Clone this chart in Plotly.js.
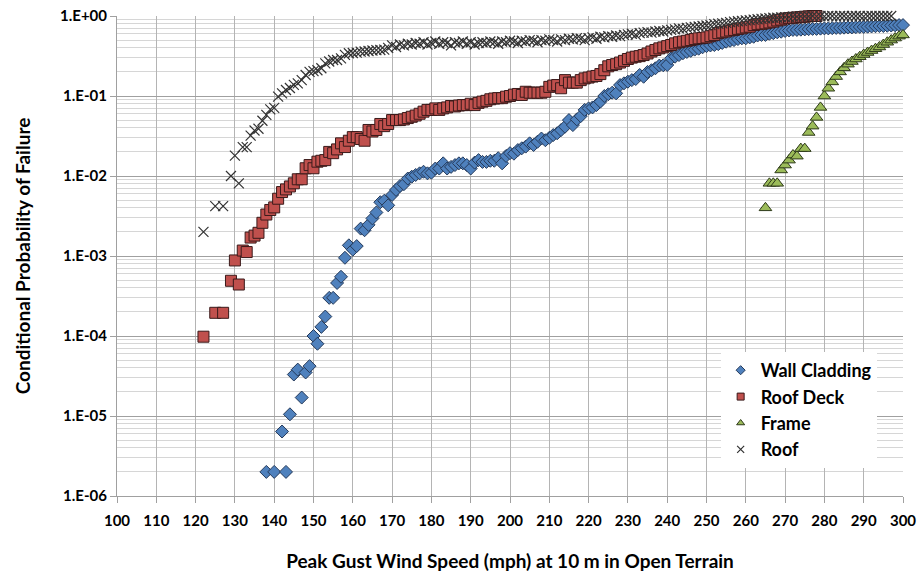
<!DOCTYPE html>
<html>
<head>
<meta charset="utf-8">
<script src="https://cdn.plot.ly/plotly-3.0.1.min.js"></script>
<style>html,body{margin:0;padding:0;background:#fff}#chart{width:921px;height:573px}</style>
</head>
<body>
<div id="chart"></div>
<script>
// ---- Data ----
const wallX = [138,140,142,143,144,145,146,147,148,149,150,151,152,153,154,155,156,157,158,159,160,161,162,163,164,165,166,167,168,169,170,171,172,173,174,175,176,177,178,179,180,181,182,183,184,185,186,187,188,189,190,191,192,193,194,195,196,197,198,199,200,201,202,203,204,205,206,207,208,209,210,211,212,213,214,215,216,217,218,219,220,221,222,223,224,225,226,227,228,229,230,231,232,233,234,235,236,237,238,239,240,241,242,243,244,245,246,247,248,249,250,251,252,253,254,255,256,257,258,259,260,261,262,263,264,265,266,267,268,269,270,271,272,273,274,275,276,277,278,279,280,281,282,283,284,285,286,287,288,289,290,291,292,293,294,295,296,297,298,299,300];
const wallY = [2.0e-6,2.0e-6,6.4e-6,2.0e-6,1.05e-5,3.3e-5,3.8e-5,1.7e-5,3.5e-5,4.2e-5,1.0e-4,8.0e-5,1.3e-4,1.75e-4,3.0e-4,3.0e-4,4.6e-4,5.5e-4,9.5e-4,1.36e-3,1.2e-3,1.33e-3,2.2e-3,2.1e-3,2.45e-3,2.95e-3,3.5e-3,4.7e-3,4.9e-3,4.3e-3,5.8e-3,6.7e-3,7.5e-3,7.9e-3,9.3e-3,9.8e-3,0.0103,0.0108,0.0113,0.0108,0.0110,0.0124,0.0124,0.0144,0.0124,0.0130,0.0137,0.0144,0.0144,0.0137,0.0124,0.0147,0.0158,0.0150,0.0150,0.0155,0.0155,0.0167,0.0144,0.0178,0.0193,0.0190,0.0211,0.0222,0.0233,0.0256,0.0244,0.0268,0.0294,0.0280,0.0300,0.0325,0.0342,0.0375,0.0413,0.0500,0.0433,0.0510,0.0560,0.0670,0.0700,0.0720,0.0770,0.0850,0.100,0.105,0.110,0.108,0.137,0.144,0.151,0.158,0.163,0.183,0.174,0.200,0.210,0.222,0.240,0.242,0.244,0.296,0.310,0.325,0.342,0.355,0.366,0.380,0.390,0.406,0.420,0.428,0.434,0.445,0.460,0.477,0.490,0.500,0.515,0.526,0.526,0.540,0.550,0.570,0.580,0.580,0.600,0.610,0.625,0.636,0.650,0.660,0.670,0.670,0.675,0.680,0.685,0.690,0.690,0.695,0.700,0.700,0.705,0.710,0.710,0.715,0.720,0.720,0.725,0.730,0.730,0.735,0.740,0.745,0.750,0.750,0.755,0.760,0.765,0.770,0.770];

const deckX = [122,125,127,129,130,131,132,133,134,135,136,137,138,139,140,141,142,143,144,145,146,147,148,149,150,151,152,153,154,155,156,157,158,159,160,161,162,163,164,165,166,167,168,169,170,171,172,173,174,175,176,177,178,179,180,181,182,183,184,185,186,187,188,189,190,191,192,193,194,195,196,197,198,199,200,201,202,203,204,205,206,207,208,209,210,211,212,213,214,215,216,217,218,219,220,221,222,223,224,225,226,227,228,229,230,231,232,233,234,235,236,237,238,239,240,241,242,243,244,245,246,247,248,249,250,251,252,253,254,255,256,257,258,259,260,261,262,263,264,265,266,267,268,269,270,271,272,273,274,275,276,277,278];
const deckY = [9.8e-5,1.95e-4,1.95e-4,4.9e-4,8.8e-4,4.4e-4,1.17e-3,1.12e-3,1.7e-3,1.8e-3,1.95e-3,2.6e-3,3.3e-3,3.76e-3,4.05e-3,5.2e-3,6.3e-3,6.8e-3,7.4e-3,8.1e-3,9.1e-3,9.1e-3,0.0125,0.0137,0.0125,0.0151,0.0155,0.0158,0.0200,0.0193,0.0215,0.0256,0.0230,0.0276,0.0306,0.0306,0.0290,0.0276,0.0376,0.0360,0.0376,0.0447,0.0420,0.0447,0.0500,0.0500,0.0500,0.0510,0.0530,0.0550,0.0570,0.0600,0.0637,0.0670,0.0670,0.0700,0.0670,0.0700,0.0720,0.0750,0.0740,0.0760,0.0770,0.0770,0.0800,0.0770,0.0820,0.0850,0.0870,0.0910,0.0930,0.0940,0.0940,0.0980,0.100,0.104,0.106,0.103,0.113,0.110,0.110,0.110,0.110,0.113,0.130,0.135,0.137,0.125,0.158,0.147,0.147,0.147,0.158,0.166,0.170,0.175,0.178,0.188,0.210,0.235,0.244,0.250,0.262,0.275,0.290,0.302,0.310,0.315,0.325,0.340,0.360,0.376,0.394,0.405,0.420,0.434,0.455,0.470,0.480,0.490,0.500,0.515,0.526,0.530,0.540,0.560,0.580,0.610,0.625,0.640,0.660,0.670,0.690,0.700,0.720,0.735,0.770,0.790,0.800,0.810,0.830,0.850,0.880,0.900,0.930,0.940,0.950,0.960,0.970,0.980,0.990,1.000,1.000];

const frameX = [265,266,267,268,269,270,271,272,273,274,275,276,277,278,279,280,281,282,283,284,285,286,287,288,289,290,291,292,293,294,295,296,297,298,299,300];
const frameY = [4.0e-3,8.1e-3,8.1e-3,8.1e-3,0.0119,0.0137,0.0158,0.0183,0.0177,0.0220,0.0220,0.0350,0.0420,0.0540,0.0720,0.100,0.125,0.150,0.175,0.200,0.225,0.250,0.270,0.290,0.310,0.330,0.350,0.370,0.390,0.410,0.440,0.470,0.500,0.530,0.560,0.580];

const roofX = [122,125,127,129,130,131,132,133,134,135,136,137,138,139,140,141,142,143,144,145,146,147,148,149,150,151,152,153,154,155,156,157,158,159,160,161,162,163,164,165,166,167,168,169,170,171,172,173,174,175,176,177,178,179,180,181,182,183,184,185,186,187,188,189,190,191,192,193,194,195,196,197,198,199,200,201,202,203,204,205,206,207,208,209,210,211,212,213,214,215,216,217,218,219,220,221,222,223,224,225,226,227,228,229,230,231,232,233,234,235,236,237,238,239,240,241,242,243,244,245,246,247,248,249,250,251,252,253,254,255,256,257,258,259,260,261,262,263,264,265,266,267,268,269,270,271,272,273,274,275,276,277,278,279,280,281,282,283,284,285,286,287,288,289,290,291,292,293,294,295,296,297,298,299,300];
const roofY = [2.0e-3,4.2e-3,4.2e-3,0.0100,0.0180,8.1e-3,0.0230,0.0230,0.0320,0.0370,0.0390,0.0490,0.0580,0.0680,0.0710,0.0980,0.108,0.119,0.126,0.138,0.144,0.158,0.183,0.200,0.205,0.210,0.222,0.256,0.270,0.282,0.282,0.296,0.326,0.342,0.345,0.348,0.358,0.360,0.365,0.370,0.375,0.376,0.380,0.400,0.430,0.410,0.440,0.430,0.450,0.440,0.460,0.450,0.470,0.440,0.460,0.480,0.450,0.470,0.460,0.430,0.470,0.460,0.480,0.450,0.470,0.440,0.460,0.470,0.460,0.480,0.470,0.450,0.480,0.470,0.490,0.480,0.460,0.490,0.480,0.500,0.490,0.470,0.500,0.490,0.510,0.500,0.480,0.510,0.500,0.520,0.510,0.530,0.520,0.500,0.530,0.540,0.520,0.550,0.540,0.560,0.550,0.570,0.560,0.580,0.590,0.600,0.580,0.610,0.620,0.630,0.620,0.640,0.650,0.640,0.660,0.670,0.680,0.700,0.690,0.710,0.720,0.730,0.740,0.750,0.760,0.770,0.790,0.800,0.810,0.820,0.840,0.850,0.860,0.870,0.880,0.890,0.900,0.910,0.920,0.930,0.940,0.950,0.950,0.960,0.970,0.970,0.980,0.980,0.990,0.990,0.990,1.000,0.990,1.000,0.990,1.000,1.000,0.990,1.000,1.000,0.990,1.000,1.000,1.000,0.990,1.000,1.000,1.000,1.000,1.000,1.000,1.000];

const seriesNames = ["Wall Cladding", "Roof Deck", "Frame", "Roof"];
const yTickVals = [1e-6,1e-5,1e-4,1e-3,1e-2,1e-1,1];
const yTickText = ["1.E-06","1.E-05","1.E-04","1.E-03","1.E-02","1.E-01","1.E+00"];
const xTickVals = [100,110,120,130,140,150,160,170,180,190,200,210,220,230,240,250,260,270,280,290,300];

// minor gridline positions (2..9 within each decade)
const minorVals = [];
for (let e = -6; e < 0; e++) for (let m = 2; m <= 9; m++) minorVals.push(m * Math.pow(10, e));

const FONT = "Lato, 'Open Sans', 'DejaVu Sans', sans-serif";

const styles = [
  {symbol: "diamond", size: 10, color: "#4f81bd", line: {color: "#253a5a", width: 1}},
  {symbol: "square", size: 11, color: "#c0504d", line: {color: "#3a1a1a", width: 1}},
  {symbol: "triangle-up", size: 11, color: "#9bbb59", line: {color: "#2e3a1a", width: 1}},
  {symbol: "x-thin", size: 10, color: "#333333", line: {color: "#333333", width: 1.2}}
];
const legendStyles = [
  {symbol: "diamond", size: 7, color: "#4f81bd", line: {color: "#253a5a", width: 1}},
  {symbol: "square", size: 7, color: "#c0504d", line: {color: "#3a1a1a", width: 1}},
  {symbol: "triangle-up", size: 7, color: "#9bbb59", line: {color: "#2e3a1a", width: 1}},
  {symbol: "x-thin", size: 7, color: "#333333", line: {color: "#333333", width: 1.2}}
];
const xs = [wallX, deckX, frameX, roofX];
const ys = [wallY, deckY, frameY, roofY];

const traces = [];
for (let i = 0; i < 4; i++) {
  traces.push({x: xs[i], y: ys[i], name: seriesNames[i], type: "scatter", mode: "markers",
    cliponaxis: false, showlegend: false, legendgroup: "g" + i, marker: styles[i]});
}
// legend-only entries (no marks) with the small legend symbol size
for (let i = 0; i < 4; i++) {
  traces.push({x: [null], y: [null], name: seriesNames[i], type: "scatter", mode: "markers",
    showlegend: true, legendgroup: "g" + i, marker: legendStyles[i]});
}

const layout = {
  width: 921, height: 573,
  margin: {l: 117, r: 18, t: 16, b: 77},
  paper_bgcolor: "#ffffff", plot_bgcolor: "#ffffff",
  font: {family: FONT, color: "#000000"},
  showlegend: true,
  legend: {x: 0.768, y: 0.3, xanchor: "left", yanchor: "top",
    bgcolor: "#ffffff", borderwidth: 0, tracegroupgap: 0, itemsizing: "trace", itemwidth: 30,
    font: {family: FONT, size: 18, color: "#000", weight: "bold"}},
  xaxis: {
    range: [100, 300], tickmode: "array", tickvals: xTickVals,
    showgrid: true, gridcolor: "#b4b4b4", gridwidth: 1,
    showline: true, linecolor: "#a0a0a0", linewidth: 1,
    ticks: "outside", ticklen: 6, tickcolor: "#a0a0a0",
    ticklabelstandoff: 5,
    zeroline: false,
    tickfont: {family: FONT, size: 15, weight: "bold", color: "#000"},
    title: {text: "Peak Gust Wind Speed (mph) at 10 m in Open Terrain", standoff: 26,
      font: {family: FONT, size: 19, weight: "bold", color: "#000"}}
  },
  yaxis: {
    type: "log", range: [-6, 0], tickmode: "array", tickvals: yTickVals, ticktext: yTickText,
    showgrid: true, gridcolor: "#a0a0a0", gridwidth: 1,
    showline: true, linecolor: "#a0a0a0", linewidth: 1,
    ticks: "outside", ticklen: 6, tickcolor: "#a0a0a0",
    zeroline: false,
    minor: {tickmode: "array", tickvals: minorVals, showgrid: true, gridcolor: "#d6d6d6", gridwidth: 1, ticks: ""},
    tickfont: {family: FONT, size: 15, weight: "bold", color: "#000"},
    title: {text: "Conditional Probability of Failure", standoff: 24,
      font: {family: FONT, size: 19, weight: "bold", color: "#000"}}
  }
};

Plotly.newPlot("chart", traces, layout, {staticPlot: true, displayModeBar: false});
</script>
</body>
</html>
